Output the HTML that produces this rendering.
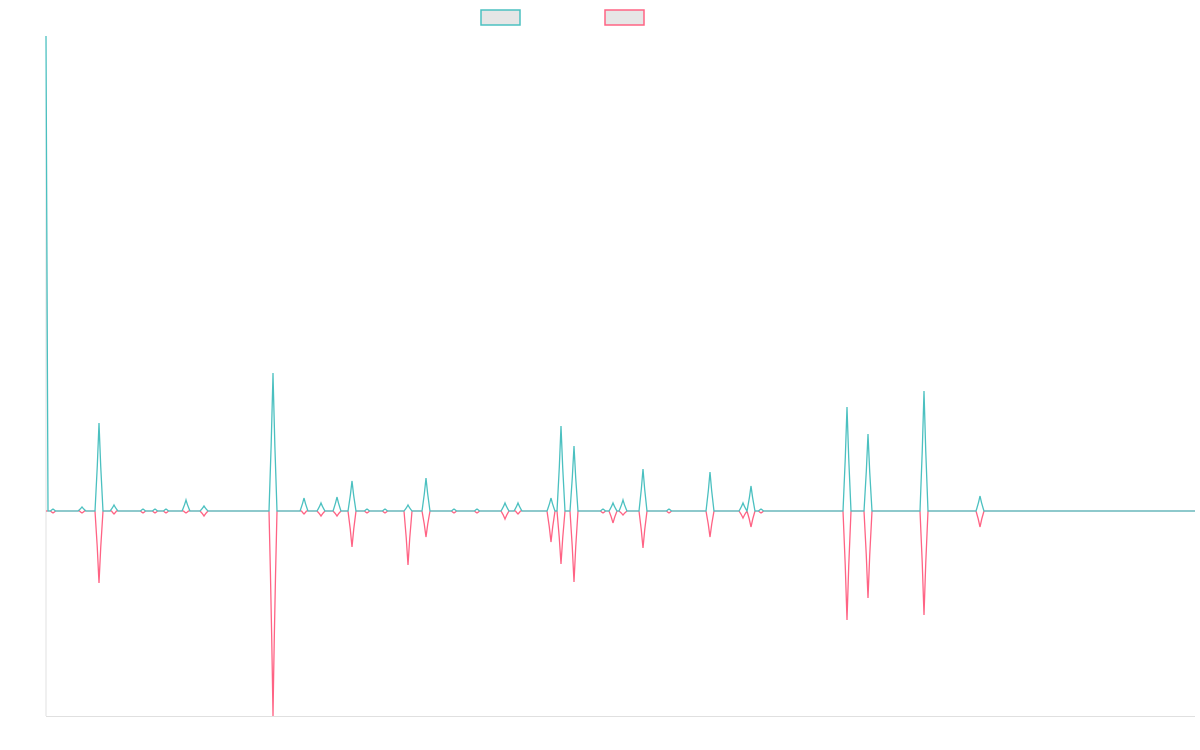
<!DOCTYPE html>
<html><head><meta charset="utf-8"><style>html,body{margin:0;padding:0;background:#fff;}svg{display:block}</style></head>
<body>
<svg id="s" width="1200" height="750" xmlns="http://www.w3.org/2000/svg">
<line x1="46" y1="36" x2="46" y2="716" stroke="#e0e0e0" stroke-width="1"/>
<line x1="46" y1="716.5" x2="1195" y2="716.5" stroke="#e0e0e0" stroke-width="1"/>
<rect x="481" y="10" width="39" height="15" fill="#e6e6e6" stroke="#4bc0c0" stroke-width="1.5"/>
<rect x="605" y="10" width="39" height="15" fill="#e6e6e6" stroke="#ff6384" stroke-width="1.5"/>
<path id="p2" fill="none" stroke="#ff6384" stroke-width="1.3"/>
<path id="p1" fill="none" stroke="#4bc0c0" stroke-width="1.3"/>
</svg>
<script>
var B=511;
var d=[[53,509,513],[82,507,513],[99,423,583],[114,505,514],[143,509,513],[155,509,513],[166,509,513],[186,500,513],[204,506,516],[273,373,716],[304,498,514],[321,503,516],[337,497,516],[352,481,547],[367,509,513],[385,509,513],[408,505,565],[426,478,537],[454,509,513],[477,509,513],[505,503,519],[518,503,514],[551,498,542],[561,426,564],[574,446,582],[603,509,513],[613,503,523],[623,500,515],[643,469,548],[669,509,513],[710,472,537],[743,503,518],[751,486,527],[761,509,513],[847,407,620],[868,434,598],[924,391,615],[980,496,527]];
function mk(i,start){
  var s=start;
  d.forEach(function(p){var x=p[0],y=p[i];var w=(Math.abs(y-B)<4)?2.5:4;
    s+=" L"+(x-w)+","+B+" Q"+(x-1.5)+","+(B+(y-B)*0.5)+" "+x+","+y+" Q"+(x+1.5)+","+(B+(y-B)*0.5)+" "+(x+w)+","+B;});
  s+=" L1195,"+B;return s;}
document.getElementById('p1').setAttribute('d',mk(1,"M46,36 Q47,300 48,"+B));
document.getElementById('p2').setAttribute('d',mk(2,"M46,"+B+" L48,"+B));
</script>
</body></html>
